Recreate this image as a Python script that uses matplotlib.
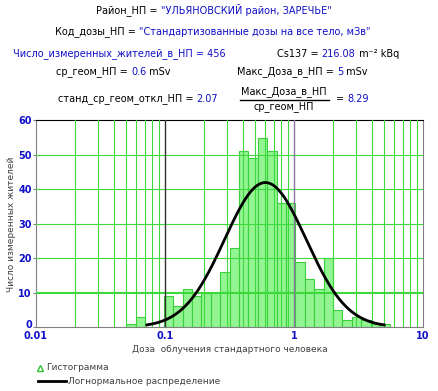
import numpy as np
import matplotlib
matplotlib.use("Agg")
import matplotlib.pyplot as plt
import matplotlib.transforms as mtransforms
from matplotlib.offsetbox import TextArea, HPacker, AnnotationBbox
from matplotlib.lines import Line2D

plt.rcParams['font.family'] = ['DejaVu Sans']

# ---------------- data ----------------
district = '"УЛЬЯНОВСКИЙ район, ЗАРЕЧЬЕ"'
dose_code = '"Стандартизованные дозы на все тело, мЗв"'
n_people = 456
cs137 = "216.08"
geo_mean = 0.6
geo_sd = 2.07
max_dose = 5.0
ratio = 8.29
bin_low = 0.05
bin_high = 5.5
counts = [1, 3, 0, 0, 9, 6, 11, 9, 10, 10, 16, 23, 51, 49, 55, 51,
          36, 36, 19, 14, 11, 20, 5, 2, 3, 2, 1, 1]
x_ticks = [0.01, 0.1, 1, 10]
x_tick_labels = ["0.01", "0.1", "1", "10"]
y_ticks = [0, 10, 20, 30, 40, 50, 60]

W, H = 438, 391
fig = plt.figure(figsize=(W / 100, H / 100), dpi=100)
fig.patch.set_facecolor('white')

BLUE = '#1010c8'
BLACK = '#000000'
FS = 7

def mixed(parts, x, y, align=0.0, size=FS):
    boxes = [TextArea(t, textprops=dict(color=c, fontsize=size)) for t, c in parts]
    pack = HPacker(children=boxes, pad=0, sep=0, align='baseline')
    ab = AnnotationBbox(pack, (x, H - y), xycoords='figure pixels',
                        box_alignment=(align, 0.5), frameon=False, pad=0)
    fig.add_artist(ab)

mixed([("Район_НП = ", BLACK), (district, BLUE)], 214, 10, 0.5)
mixed([("Код_дозы_НП = ", BLACK), (dose_code, BLUE)], 213, 32, 0.5)
mixed([(f"Число_измеренных_жителей_в_НП = {n_people}", BLUE)], 13, 54)
mixed([("Cs137 = ", BLACK), (cs137, BLUE), (" m⁻² kBq", BLACK)], 277, 54)
mixed([("ср_геом_НП = ", BLACK), (f"{geo_mean:g}", BLUE), (" mSv", BLACK)], 56, 72)
mixed([("Макс_Доза_в_НП = ", BLACK), (f"{max_dose:g}", BLUE), (" mSv", BLACK)], 237, 72)
mixed([("станд_ср_геом_откл_НП = ", BLACK), (f"{geo_sd:g}", BLUE)], 58, 99)
fig.text(284 / W, 1 - 92 / H, "Макс_Доза_в_НП", fontsize=FS, color=BLACK,
         ha='center', va='center')
fig.text(284 / W, 1 - 107 / H, "ср_геом_НП", fontsize=FS, color=BLACK,
         ha='center', va='center')
fig.add_artist(Line2D([240 / W, 329 / W], [1 - 99.5 / H, 1 - 99.5 / H],
                      transform=fig.transFigure, color='black', lw=1))
mixed([("= ", BLACK), (f"{ratio:g}", BLUE)], 336, 99)

# ---------------- axes ----------------
ax = fig.add_axes([36 / W, (H - 327) / H, 387 / W, 206.5 / H])
ax.set_xscale('log')
ax.set_xlim(0.01, 10)
ax.set_ylim(0, 60)

edges = np.geomspace(bin_low, bin_high, len(counts) + 1)
ax.bar(edges[:-1], counts, width=np.diff(edges), align='edge',
       color='#92f592', edgecolor='#3ccf3c', linewidth=0.8, zorder=2)

GREEN = '#3cd83c'
for dec in [0.01, 0.1, 1]:
    for m in range(2, 10):
        ax.axvline(dec * m, color=GREEN, lw=0.8, zorder=3)
for yv in [10, 20, 30, 40, 50]:
    ax.axhline(yv, color=GREEN, lw=1.5 if yv == 10 else 0.8, zorder=3)
ax.axvline(0.1, color='#303030', lw=1, zorder=3)
ax.axvline(1, color='#8878a0', lw=1, zorder=3)

# lognormal curve
log_w = np.log10(edges[1]) - np.log10(edges[0])
s = np.log10(geo_sd)
xc = np.geomspace(geo_mean / ratio, max_dose, 300)
yc = n_people * log_w / (s * np.sqrt(2 * np.pi)) * \
    np.exp(-0.5 * ((np.log10(xc) - np.log10(geo_mean)) / s) ** 2)
ax.plot(xc, yc, color='black', lw=2, zorder=5)

for sp in ['left', 'bottom', 'right']:
    ax.spines[sp].set_color('#808080')
ax.spines['top'].set_color('black')

ax.set_xticks(x_ticks)
ax.set_xticklabels(x_tick_labels)
ax.xaxis.set_minor_locator(matplotlib.ticker.NullLocator())
ax.set_yticks(y_ticks)
ax.tick_params(axis='x', length=0, pad=3, labelsize=7, labelcolor=BLUE)
ax.tick_params(axis='y', length=2, pad=1, labelsize=7, labelcolor=BLUE,
               color='#808080')
for lab in ax.get_xticklabels() + ax.get_yticklabels():
    lab.set_fontweight('bold')
zero_lab = ax.get_yticklabels()[0]
zero_lab.set_transform(zero_lab.get_transform() +
                       mtransforms.ScaledTranslation(0, 3 / 100, fig.dpi_scale_trans))

fig.text(12 / W, 1 - 224 / H, "Число измеренных жителей", rotation=90,
         fontsize=6.5, color='#404040', ha='center', va='center')
fig.text(230 / W, 1 - 349 / H, "Доза  облучения стандартного человека",
         fontsize=6.5, color='#404040', ha='center', va='center')

# legend
fig.add_artist(Line2D([40 / W], [1 - 368 / H], transform=fig.transFigure,
                      marker='^', markersize=4, markerfacecolor='none',
                      markeredgecolor='#30c030', linestyle='none'))
fig.text(46 / W, 1 - 368 / H, "Гистограмма", fontsize=6.5, color='#404040',
         ha='left', va='center')
fig.add_artist(Line2D([38 / W, 66 / W], [1 - 381 / H, 1 - 381 / H],
                      transform=fig.transFigure, color='black', lw=2))
fig.text(68 / W, 1 - 381 / H, "Логнормальное распределение", fontsize=6.5,
         color='#404040', ha='left', va='center')

fig.savefig("out.png", dpi=100)
